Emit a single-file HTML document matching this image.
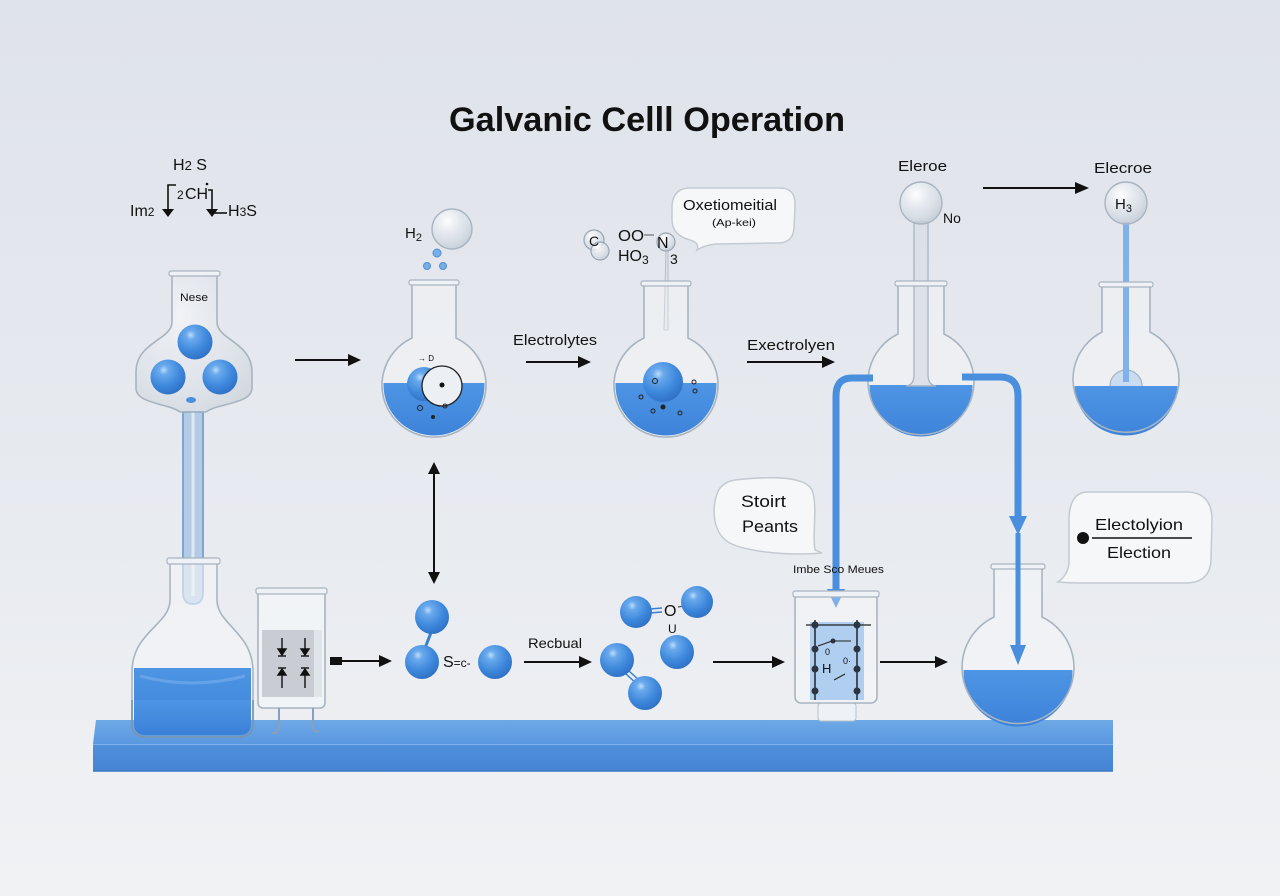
<!DOCTYPE html>
<html><head><meta charset="utf-8"><style>
html,body{margin:0;padding:0;width:1280px;height:896px;overflow:hidden;background:#e6e9ee}
svg{display:block}
text{font-family:"Liberation Sans",Arial,sans-serif;fill:#111}
</style></head><body>
<svg width="1280" height="896" viewBox="0 0 1280 896" xmlns="http://www.w3.org/2000/svg">
<defs>
<linearGradient id="bg" x1="0" y1="0" x2="0" y2="1">
<stop offset="0" stop-color="#dfe3ea"/><stop offset="0.6" stop-color="#e8ebf0"/><stop offset="1" stop-color="#f1f2f4"/>
</linearGradient>
<radialGradient id="sph" cx="0.38" cy="0.3" r="0.75">
<stop offset="0" stop-color="#bcdcfb"/><stop offset="0.18" stop-color="#6aa9ec"/><stop offset="0.6" stop-color="#3f89dd"/><stop offset="1" stop-color="#2d6fc4"/>
</radialGradient>
<radialGradient id="glassb" cx="0.38" cy="0.3" r="0.8">
<stop offset="0" stop-color="#ffffff" stop-opacity="0.95"/><stop offset="0.6" stop-color="#d8dee6" stop-opacity="0.7"/><stop offset="1" stop-color="#b7c1cc" stop-opacity="0.8"/>
</radialGradient>
<linearGradient id="liq" x1="0" y1="0" x2="0" y2="1">
<stop offset="0" stop-color="#4f95e4"/><stop offset="1" stop-color="#3a80d8"/>
</linearGradient>
<linearGradient id="ptop" x1="0" y1="0" x2="0" y2="1">
<stop offset="0" stop-color="#6ea9e6"/><stop offset="1" stop-color="#5a98e0"/>
</linearGradient>
<linearGradient id="pfront" x1="0" y1="0" x2="0" y2="1">
<stop offset="0" stop-color="#4f90dc"/><stop offset="1" stop-color="#4584d3"/>
</linearGradient>
<clipPath id="c2"><circle cx="434" cy="385" r="50.5"/></clipPath>
<clipPath id="c3"><circle cx="666" cy="385" r="50.5"/></clipPath>
<clipPath id="c4"><circle cx="921" cy="385" r="51.5"/></clipPath>
<clipPath id="c5"><circle cx="1126" cy="384" r="51.5"/></clipPath>
<clipPath id="c6"><circle cx="1018" cy="672" r="54.5"/></clipPath>
</defs>
<rect width="1280" height="896" fill="url(#bg)"/>

<!-- Title -->
<text x="647" y="131" font-size="34" font-weight="bold" text-anchor="middle" textLength="396" lengthAdjust="spacingAndGlyphs">Galvanic Celll Operation</text>

<!-- Top-left formula -->
<text x="173" y="170" font-size="16" textLength="34" lengthAdjust="spacingAndGlyphs">H<tspan font-size="13">2</tspan> S</text>
<text x="177" y="199" font-size="12">2</text>
<text x="185" y="199" font-size="16">CH</text>
<circle cx="207" cy="184" r="1.3" fill="#111"/>
<path d="M176,185 H168 V210" stroke="#111" stroke-width="1.6" fill="none"/>
<polygon points="162,209 174,209 168,217" fill="#111"/>
<path d="M208,190 H212 V210" stroke="#111" stroke-width="1.6" fill="none"/>
<polygon points="206,209 218,209 212,217" fill="#111"/>
<line x1="212" y1="213" x2="227" y2="213" stroke="#111" stroke-width="1.6"/>
<text x="130" y="216" font-size="16">Im<tspan font-size="12">2</tspan></text>
<text x="228" y="216" font-size="16">H<tspan font-size="12">3</tspan>S</text>

<!-- Flask 1 (bell) -->
<path d="M183,412 L183,592 Q183,604 193,604 Q203,604 203,592 L203,412 Z" fill="#b3cbe5" stroke="#7ea6d3" stroke-width="2"/>
<line x1="193" y1="412" x2="193" y2="596" stroke="#dfe9f4" stroke-width="3"/>
<path d="M172,275 L172,322 C172,340 136,342 136,372 L136,388 C136,404 168,403 180,412 L206,412 C218,403 252,404 252,388 L252,372 C252,342 217,340 217,322 L217,275 Z" fill="url(#glassb)" fill-opacity="0.5" stroke="#a9b4c1" stroke-width="1.6"/>
<rect x="169" y="271" width="51" height="5" rx="2" fill="#eef1f5" stroke="#a9b4c1" stroke-width="1.2"/>
<text x="180" y="301" font-size="11" textLength="28" lengthAdjust="spacingAndGlyphs">Nese</text>
<circle cx="195" cy="342" r="17.5" fill="url(#sph)"/>
<circle cx="168" cy="377" r="17.5" fill="url(#sph)"/>
<circle cx="220" cy="377" r="17.5" fill="url(#sph)"/>
<ellipse cx="191" cy="400" rx="5" ry="3" fill="#4b8fdd"/>

<!-- Lower-left flask -->
<path d="M170,562 V600 C170,625 132,632 132,672 V724 Q132,737 146,737 H239 Q253,737 253,724 V672 C253,632 217,625 217,600 V562 Z" fill="#f3f5f8" fill-opacity="0.6" stroke="#a9b4c1" stroke-width="1.6"/>
<path d="M134,668 H251 V724 Q251,735 239,735 H146 Q134,735 134,724 Z" fill="url(#liq)"/>
<path d="M140,676 Q192,690 245,676" stroke="#7fb4ee" stroke-width="3" fill="none" opacity="0.5"/>
<rect x="167" y="558" width="53" height="6" rx="2" fill="#eef1f5" stroke="#a9b4c1" stroke-width="1.2"/>

<!-- small column beaker -->
<rect x="258" y="590" width="67" height="118" rx="5" fill="#f4f6f9" fill-opacity="0.7" stroke="#a9b4c1" stroke-width="1.6"/>
<rect x="256" y="588" width="71" height="6" rx="2" fill="#eef1f5" stroke="#a9b4c1" stroke-width="1.2"/>
<rect x="262" y="630" width="52" height="67" fill="#c9ccd2"/>
<rect x="314" y="630" width="8" height="67" fill="#e1e4e8"/>
<g stroke="#111" stroke-width="1.4" fill="#111">
<line x1="282" y1="638" x2="282" y2="652"/><polygon points="278,649 286,649 282,655"/><line x1="278" y1="656" x2="286" y2="656"/>
<line x1="305" y1="638" x2="305" y2="652"/><polygon points="301,649 309,649 305,655"/><line x1="301" y1="656" x2="309" y2="656"/>
<line x1="282" y1="688" x2="282" y2="672"/><polygon points="278,675 286,675 282,669"/><line x1="278" y1="668" x2="286" y2="668"/>
<line x1="305" y1="688" x2="305" y2="672"/><polygon points="301,675 309,675 305,669"/><line x1="301" y1="668" x2="309" y2="668"/>
</g>

<!-- platform -->
<polygon points="96,720 1113,720 1113,744 93,744" fill="url(#ptop)"/>
<rect x="93" y="744" width="1020" height="27" fill="url(#pfront)"/>
<line x1="93" y1="744.5" x2="1113" y2="744.5" stroke="#7fb3ea" stroke-width="1"/>
<line x1="93" y1="771" x2="1113" y2="771" stroke="#3c79c6" stroke-width="1.5"/>
<!-- redraw bottoms over platform -->
<path d="M134,700 H251 V724 Q251,735 239,735 H146 Q134,735 134,724 Z" fill="url(#liq)"/>
<path d="M132,700 V724 Q132,737 146,737 H239 Q253,737 253,724 V700" fill="none" stroke="#7c93ad" stroke-width="1.6"/>
<path d="M279,708 V727 Q279,733 272,733 M313,708 V727 Q313,733 320,731" stroke="#8aa0ba" stroke-width="2" fill="none"/>

<!-- arrow 1 -->
<line x1="295" y1="360" x2="350" y2="360" stroke="#111" stroke-width="2"/>
<polygon points="348,354 361,360 348,366" fill="#111"/>

<!-- Flask 2 -->
<text x="405" y="238" font-size="15">H<tspan font-size="11" dy="3">2</tspan></text>
<circle cx="452" cy="229" r="20" fill="url(#glassb)" stroke="#a9b4c1" stroke-width="1.4"/>
<circle cx="437" cy="253" r="4" fill="#7aaee6" stroke="#4f8fdb"/>
<circle cx="427" cy="266" r="3.5" fill="#7aaee6" stroke="#4f8fdb"/>
<circle cx="443" cy="266" r="3.5" fill="#7aaee6" stroke="#4f8fdb"/>
<path d="M412,282 L412,338 A52,52 0 1 0 456,338 L456,282" fill="#ffffff" fill-opacity="0.3"/>
<rect x="380" y="383" width="110" height="60" fill="url(#liq)" clip-path="url(#c2)"/>
<path d="M412,282 L412,338 A52,52 0 1 0 456,338 L456,282" fill="none" stroke="#a9b4c1" stroke-width="1.6"/>
<rect x="409" y="280" width="50" height="5" rx="2" fill="#eef1f5" stroke="#a9b4c1" stroke-width="1.2"/>
<circle cx="424" cy="384" r="17" fill="url(#sph)"/>
<circle cx="442" cy="386" r="20" fill="#eceff3" stroke="#222" stroke-width="1.3"/>
<circle cx="442" cy="385" r="2.5" fill="#111"/>
<text x="418" y="361" font-size="8">→ D</text>
<circle cx="420" cy="408" r="2.5" fill="none" stroke="#222"/>
<circle cx="433" cy="417" r="2" fill="#222"/>
<circle cx="445" cy="406" r="2" fill="none" stroke="#222"/>

<!-- Electrolytes -->
<text x="513" y="345" font-size="15" textLength="84" lengthAdjust="spacingAndGlyphs">Electrolytes</text>
<line x1="526" y1="362" x2="580" y2="362" stroke="#111" stroke-width="2"/>
<polygon points="578,356 591,362 578,368" fill="#111"/>

<!-- Flask 3 -->
<circle cx="594" cy="240" r="10" fill="url(#glassb)" stroke="#98a4b2" stroke-width="1.2"/>
<circle cx="600" cy="251" r="9" fill="url(#glassb)" stroke="#98a4b2" stroke-width="1.2"/>
<text x="589" y="246" font-size="14">C</text>
<text x="618" y="241" font-size="16" textLength="26" lengthAdjust="spacingAndGlyphs">OO</text>
<text x="618" y="261" font-size="16">HO<tspan font-size="12" dy="3">3</tspan></text>
<line x1="644" y1="235" x2="654" y2="235" stroke="#555" stroke-width="1"/>
<path d="M666,250 L664,330 L668,330 L668,250" fill="#dfe4ea" stroke="#b3bcc7" stroke-width="1"/>
<circle cx="666" cy="242" r="9" fill="url(#glassb)" stroke="#98a4b2" stroke-width="1.2"/>
<text x="657" y="248" font-size="16">N</text>
<text x="670" y="264" font-size="14">3</text>
<path d="M644,283 L644,338 A52,52 0 1 0 688,338 L688,283" fill="#ffffff" fill-opacity="0.3"/>
<rect x="612" y="383" width="110" height="60" fill="url(#liq)" clip-path="url(#c3)"/>
<path d="M644,283 L644,338 A52,52 0 1 0 688,338 L688,283" fill="none" stroke="#a9b4c1" stroke-width="1.6"/>
<rect x="641" y="281" width="50" height="5" rx="2" fill="#eef1f5" stroke="#a9b4c1" stroke-width="1.2"/>
<circle cx="663" cy="382" r="20" fill="url(#sph)"/>
<g fill="none" stroke="#222" stroke-width="1">
<circle cx="655" cy="381" r="2.5"/><circle cx="694" cy="382" r="2"/><circle cx="695" cy="391" r="2"/>
<circle cx="641" cy="397" r="2"/><circle cx="653" cy="411" r="2"/><circle cx="680" cy="413" r="2"/>
</g>
<circle cx="663" cy="407" r="2.5" fill="#222"/>

<!-- Oxetiomeitial bubble -->
<path d="M690,188 L780,188 Q796,188 795,206 L794,228 Q793,243 778,243 L716,244 Q705,245 697,250 Q700,243 690,240 Q672,235 672,220 L672,206 Q673,188 690,188 Z" fill="#f6f7f9" stroke="#c4cad2" stroke-width="1.5"/>
<text x="730" y="210" font-size="15" text-anchor="middle" textLength="94" lengthAdjust="spacingAndGlyphs">Oxetiomeitial</text>
<text x="734" y="226" font-size="10" text-anchor="middle" textLength="44" lengthAdjust="spacingAndGlyphs">(Ap-kei)</text>

<!-- Exectrolyen -->
<text x="747" y="350" font-size="15" textLength="88" lengthAdjust="spacingAndGlyphs">Exectrolyen</text>
<line x1="747" y1="362" x2="824" y2="362" stroke="#111" stroke-width="2"/>
<polygon points="822,356 835,362 822,368" fill="#111"/>

<!-- Flask 4 -->
<text x="898" y="171" font-size="15" textLength="49" lengthAdjust="spacingAndGlyphs">Eleroe</text>
<path d="M898,283 L898,334 A53,53 0 1 0 944,334 L944,283" fill="#ffffff" fill-opacity="0.3"/>
<rect x="866" y="385" width="112" height="60" fill="url(#liq)" clip-path="url(#c4)"/>
<path d="M914,222 L914,375 Q914,385 906,386 L936,386 Q928,385 928,375 L928,222 Z" fill="#d9dee5" fill-opacity="0.8" stroke="#a9b4c1" stroke-width="1.3"/>
<circle cx="921" cy="203" r="21" fill="url(#glassb)" stroke="#a9b4c1" stroke-width="1.4"/>
<text x="943" y="223" font-size="14">No</text>
<path d="M898,283 L898,334 A53,53 0 1 0 944,334 L944,283" fill="none" stroke="#a9b4c1" stroke-width="1.6"/>
<rect x="895" y="281" width="52" height="5" rx="2" fill="#eef1f5" stroke="#a9b4c1" stroke-width="1.2"/>

<!-- arrow top right -->
<line x1="983" y1="188" x2="1077" y2="188" stroke="#111" stroke-width="2"/>
<polygon points="1075,182 1089,188 1075,194" fill="#111"/>

<!-- Flask 5 -->
<text x="1094" y="173" font-size="15" textLength="58" lengthAdjust="spacingAndGlyphs">Elecroe</text>
<path d="M1102,284 L1102,332 A53,53 0 1 0 1150,332 L1150,284" fill="#ffffff" fill-opacity="0.3"/>
<rect x="1070" y="386" width="112" height="60" fill="url(#liq)" clip-path="url(#c5)"/>
<path d="M1110,386 A16,16 0 0 1 1142,386" fill="#c9dcf2" stroke="#a9b4c1" stroke-width="1.3"/>
<rect x="1123" y="222" width="6" height="160" fill="#7fb2ea"/>
<circle cx="1126" cy="203" r="21" fill="url(#glassb)" stroke="#a9b4c1" stroke-width="1.4"/>
<text x="1115" y="209" font-size="15">H<tspan font-size="11" dy="3">3</tspan></text>
<path d="M1102,284 L1102,332 A53,53 0 1 0 1150,332 L1150,284" fill="none" stroke="#a9b4c1" stroke-width="1.6"/>
<rect x="1099" y="282" width="54" height="5" rx="2" fill="#eef1f5" stroke="#a9b4c1" stroke-width="1.2"/>

<!-- blue pipes -->
<path d="M873,378 L852,378 Q836,378 836,396 L836,592" stroke="#4a8fde" stroke-width="7" fill="none"/>
<polygon points="827,589 845,589 836,608" fill="#4a8fde"/>
<path d="M962,377 L1000,377 Q1018,377 1018,396 L1018,518" stroke="#4a8fde" stroke-width="7" fill="none"/>
<polygon points="1009,516 1027,516 1018,535" fill="#4a8fde"/>
<line x1="1018" y1="533" x2="1018" y2="648" stroke="#4a8fde" stroke-width="5"/>

<!-- Stoirt Peants bubble -->
<path d="M735,480 C770,476 805,476 812,490 C818,505 812,535 815,550 L822,553 C790,556 745,552 728,542 C710,530 712,500 720,488 C724,483 729,481 735,480 Z" fill="#f6f7f9" stroke="#c4cad2" stroke-width="1.5"/>
<text x="741" y="507" font-size="17" textLength="45" lengthAdjust="spacingAndGlyphs">Stoirt</text>
<text x="742" y="532" font-size="17" textLength="56" lengthAdjust="spacingAndGlyphs">Peants</text>

<!-- Imbe beaker -->
<text x="793" y="573" font-size="11" textLength="91" lengthAdjust="spacingAndGlyphs">Imbe Sco Meues</text>
<rect x="818" y="703" width="38" height="18" rx="3" fill="#eef1f5" stroke="#b7c1cc" stroke-width="1"/>
<rect x="810" y="622" width="54" height="78" fill="#8ebbea"/>
<rect x="795" y="593" width="82" height="110" rx="6" fill="#ffffff" fill-opacity="0.3" stroke="#a9b4c1" stroke-width="1.6"/>
<rect x="793" y="591" width="86" height="6" rx="2" fill="#eef1f5" stroke="#a9b4c1" stroke-width="1.2"/>
<line x1="806" y1="625" x2="871" y2="625" stroke="#222" stroke-width="1.3"/>
<line x1="815" y1="620" x2="815" y2="700" stroke="#222" stroke-width="1.5"/>
<line x1="857" y1="620" x2="857" y2="700" stroke="#222" stroke-width="1.5"/>
<g fill="#2b3440">
<circle cx="815" cy="625" r="3.5"/><circle cx="815" cy="649" r="3.5"/><circle cx="815" cy="669" r="3.5"/><circle cx="815" cy="691" r="3.5"/>
<circle cx="857" cy="625" r="3.5"/><circle cx="857" cy="649" r="3.5"/><circle cx="857" cy="669" r="3.5"/><circle cx="857" cy="691" r="3.5"/>
<circle cx="833" cy="641" r="2.5"/>
</g>
<line x1="818" y1="646" x2="832" y2="641" stroke="#222" stroke-width="1"/>
<line x1="834" y1="641" x2="851" y2="641" stroke="#222" stroke-width="1"/>
<text x="822" y="673" font-size="13">H</text>
<text x="825" y="655" font-size="9" fill="#334">0</text>
<text x="843" y="664" font-size="9" fill="#334">0·</text>
<line x1="834" y1="680" x2="845" y2="674" stroke="#222" stroke-width="1"/>

<!-- Final flask -->
<path d="M994,566 L994,617 A56,56 0 1 0 1042,617 L1042,566" fill="#ffffff" fill-opacity="0.3"/>
<rect x="960" y="670" width="116" height="62" fill="url(#liq)" clip-path="url(#c6)"/>
<path d="M994,566 L994,617 A56,56 0 1 0 1042,617 L1042,566" fill="none" stroke="#a9b4c1" stroke-width="1.6"/>
<rect x="991" y="564" width="54" height="5" rx="2" fill="#eef1f5" stroke="#a9b4c1" stroke-width="1.2"/>
<line x1="1018" y1="560" x2="1018" y2="648" stroke="#4a8fde" stroke-width="5"/>
<polygon points="1010,645 1026,645 1018,665" fill="#4a8fde"/>

<!-- right bubble -->
<path d="M1088,492 L1188,492 Q1212,493 1212,520 L1211,560 Q1210,583 1185,583 L1082,583 Q1070,583 1058,582 Q1068,575 1069,563 L1069,518 Q1070,492 1088,492 Z" fill="#f6f7f9" stroke="#c4cad2" stroke-width="1.5"/>
<text x="1139" y="530" font-size="16" text-anchor="middle" textLength="88" lengthAdjust="spacingAndGlyphs">Electolyion</text>
<line x1="1092" y1="538" x2="1192" y2="538" stroke="#111" stroke-width="1.5"/>
<circle cx="1083" cy="538" r="6" fill="#111"/>
<text x="1139" y="558" font-size="16" text-anchor="middle" textLength="64" lengthAdjust="spacingAndGlyphs">Election</text>

<!-- vertical double arrow -->
<line x1="434" y1="472" x2="434" y2="574" stroke="#111" stroke-width="2"/>
<polygon points="428,474 434,462 440,474" fill="#111"/>
<polygon points="428,572 434,584 440,572" fill="#111"/>

<!-- square arrow -->
<rect x="330" y="657" width="12" height="8" fill="#111"/>
<line x1="342" y1="661" x2="381" y2="661" stroke="#111" stroke-width="2"/>
<polygon points="379,655 392,661 379,667" fill="#111"/>

<!-- molecule 1 -->
<line x1="432" y1="630" x2="425" y2="648" stroke="#3a7fd0" stroke-width="3"/>
<circle cx="432" cy="617" r="17" fill="url(#sph)"/>
<circle cx="422" cy="662" r="17" fill="url(#sph)"/>
<circle cx="495" cy="662" r="17" fill="url(#sph)"/>
<text x="443" y="667" font-size="16">S<tspan font-size="12">=c-</tspan></text>

<!-- Recbual -->
<text x="528" y="648" font-size="14" textLength="54" lengthAdjust="spacingAndGlyphs">Recbual</text>
<line x1="524" y1="662" x2="581" y2="662" stroke="#111" stroke-width="2"/>
<polygon points="579,656 592,662 579,668" fill="#111"/>

<!-- molecule 2 -->
<line x1="650" y1="609" x2="662" y2="608" stroke="#3a7fd0" stroke-width="1.5"/>
<line x1="650" y1="613" x2="662" y2="612" stroke="#3a7fd0" stroke-width="1.5"/>
<line x1="678" y1="607" x2="684" y2="606" stroke="#555" stroke-width="1.2"/>
<line x1="626" y1="674" x2="637" y2="684" stroke="#3a7fd0" stroke-width="1.5"/>
<line x1="629" y1="671" x2="640" y2="681" stroke="#3a7fd0" stroke-width="1.5"/>
<circle cx="636" cy="612" r="16" fill="url(#sph)"/>
<circle cx="697" cy="602" r="16" fill="url(#sph)"/>
<circle cx="677" cy="652" r="17" fill="url(#sph)"/>
<circle cx="617" cy="660" r="17" fill="url(#sph)"/>
<circle cx="645" cy="693" r="17" fill="url(#sph)"/>
<text x="664" y="616" font-size="16">O</text>
<text x="668" y="633" font-size="12">U</text>

<!-- arrows lower -->
<line x1="713" y1="662" x2="774" y2="662" stroke="#111" stroke-width="2"/>
<polygon points="772,656 785,662 772,668" fill="#111"/>
<line x1="880" y1="662" x2="937" y2="662" stroke="#111" stroke-width="2"/>
<polygon points="935,656 948,662 935,668" fill="#111"/>
</svg>
</body></html>
